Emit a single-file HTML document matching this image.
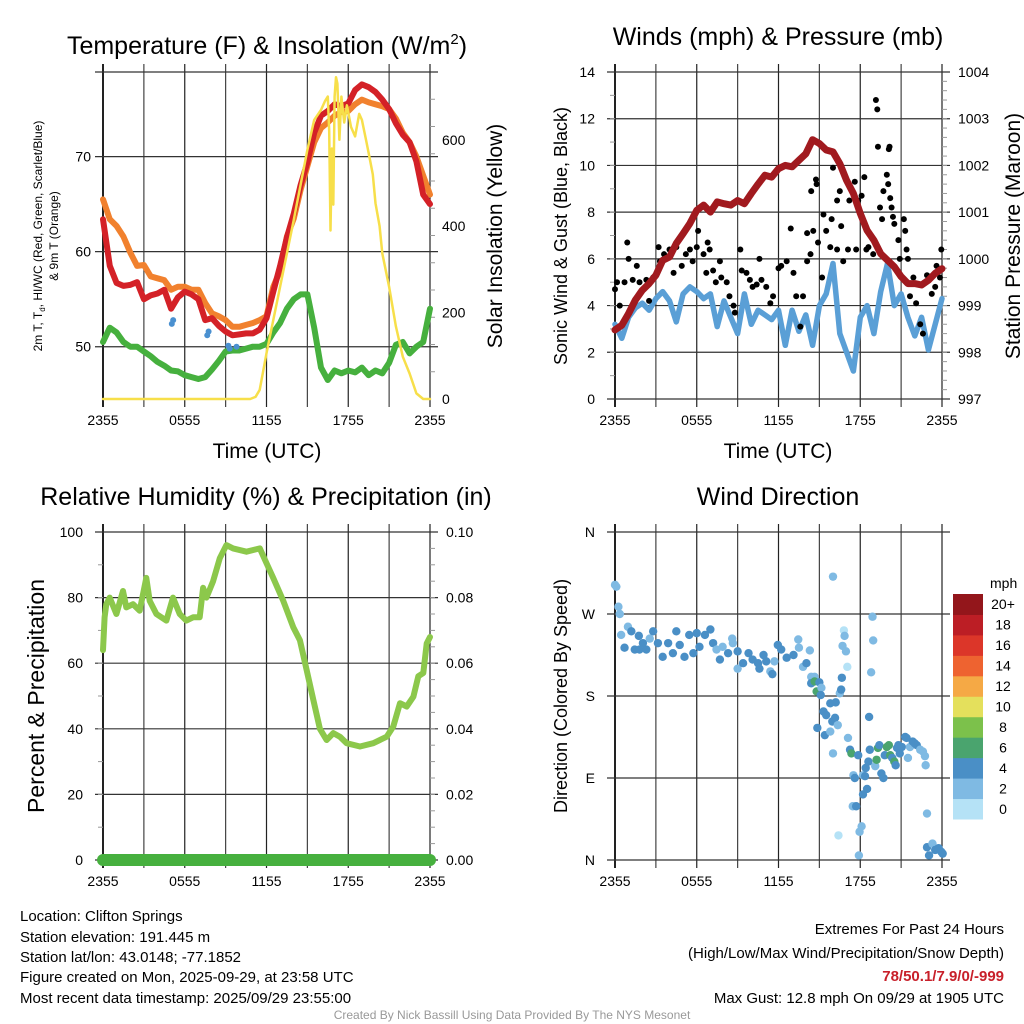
<!DOCTYPE html>
<html><head><meta charset="utf-8">
<style>
html,body{margin:0;padding:0;background:#fff;}
svg{display:block;font-family:"Liberation Sans",Arial,sans-serif;}
</style></head>
<body>
<svg id="chart" width="1024" height="1024" viewBox="0 0 1024 1024" xmlns="http://www.w3.org/2000/svg">
<rect x="0" y="0" width="1024" height="1024" fill="#fff"/>
<g id="layer"></g>
<g fill="#000">
<text x="267" y="54" font-size="25" text-anchor="middle">Temperature (F) &amp; Insolation (W/m<tspan dy="-10" font-size="15">2</tspan><tspan dy="10">)</tspan></text>
<text x="778" y="45" font-size="25" text-anchor="middle">Winds (mph) &amp; Pressure (mb)</text>
<text x="266" y="505" font-size="25" text-anchor="middle">Relative Humidity (%) &amp; Precipitation (in)</text>
<text x="778" y="505" font-size="25" text-anchor="middle">Wind Direction</text>
</g>
<g fill="#000">
<text x="267" y="458" font-size="21" text-anchor="middle">Time (UTC)</text>
<text x="778" y="458" font-size="21" text-anchor="middle">Time (UTC)</text>
<text transform="translate(42,236) rotate(-90)" font-size="12" text-anchor="middle">2m T, T<tspan font-size="8" dy="3">d</tspan><tspan dy="-3">, HI/WC (Red, Green, Scarlet/Blue)</tspan></text>
<text transform="translate(58,236) rotate(-90)" font-size="12" text-anchor="middle">&amp; 9m T (Orange)</text>
<text transform="translate(502,236) rotate(-90)" font-size="21" text-anchor="middle">Solar Insolation (Yellow)</text>
<text transform="translate(567,236) rotate(-90)" font-size="18" text-anchor="middle">Sonic Wind &amp; Gust (Blue, Black)</text>
<text transform="translate(1020,236) rotate(-90)" font-size="21" text-anchor="middle">Station Pressure (Maroon)</text>
<text transform="translate(44,696) rotate(-90)" font-size="23" text-anchor="middle">Percent &amp; Precipitation</text>
<text transform="translate(567,696) rotate(-90)" font-size="18" text-anchor="middle">Direction (Colored By Speed)</text>
</g>
<g font-size="15" fill="#000">
<text x="20" y="921">Location: Clifton Springs</text>
<text x="20" y="942">Station elevation: 191.445 m</text>
<text x="20" y="962">Station lat/lon: 43.0148; -77.1852</text>
<text x="20" y="982">Figure created on Mon, 2025-09-29, at 23:58 UTC</text>
<text x="20" y="1003">Most recent data timestamp: 2025/09/29 23:55:00</text>
</g>
<g font-size="15" fill="#000" text-anchor="end">
<text x="1004" y="934">Extremes For Past 24 Hours</text>
<text x="1004" y="958">(High/Low/Max Wind/Precipitation/Snow Depth)</text>
<text x="1004" y="981" fill="#c8202a" font-weight="bold">78/50.1/7.9/0/-999</text>
<text x="1004" y="1003">Max Gust: 12.8 mph On 09/29 at 1905 UTC</text>
</g>
<text x="512" y="1019" font-size="12" fill="#999" text-anchor="middle">Created By Nick Bassill Using Data Provided By The NYS Mesonet</text>
</svg>
<script>
// ---------- data ----------
const hours = [0,0.5,1,1.5,2,2.5,3,3.5,4,4.5,5,5.5,6,6.5,7,7.5,8,8.5,9,9.5,10,10.5,11,11.5,12,12.5,13,13.5,14,14.5,15,15.5,16,16.5,17,17.5,18,18.5,19,19.5,20,20.5,21,21.5,22,22.5,23,23.5,24];
const timeTickLabels = ["2355","0555","1155","1755","2355"];
const tempRed = [63.4,58.5,56.7,56.4,56.5,56.8,55,55.4,55.6,56,54,55.2,55.8,55.5,55,52.8,53,52.2,51.6,51.2,51.3,51.4,51.4,51.8,53,55.8,58.5,61.5,64,67,69.4,72.5,74.3,74.8,75.5,75.3,75.6,77,77.6,77.3,76.8,76,75,73.5,72.3,71.5,69.5,66,65];
const tempOrange = [65.5,63.4,62.7,61.6,59.9,58.5,58.6,57.4,57.2,57,56,56.3,56.3,56,56,54.6,53.5,53.2,52.8,52.1,52.1,52.3,52.5,52.8,53.2,56.3,58,61.6,63.5,66.5,69,71.5,73,73.6,74.3,74.7,74.8,75.5,76,75.7,75.5,75.3,75,74,72.5,71.5,70,68,66];
const dewGreen = [50.5,52,51.5,50.5,50,50,49.5,49,48.4,48,47.5,47.4,47,46.8,46.6,46.8,47.6,48.5,49.5,49.6,49.6,49.8,50,50,50.3,51.5,52.5,54,55,55.5,55.5,52,47.8,46.5,47.5,47.2,47.5,47.3,47.8,47,47.5,47.2,48.3,50.2,50.5,49.3,50,50.5,54];
const wcHours = [5.05,5.15,7.65,7.75,9.2,9.3,9.8];
const wcBlue = [52.4,52.8,51.2,51.6,50.1,49.8,50.0];
const solarHours = [0,10.8,11.2,11.5,12,13,14,15,15.5,16,16.3,16.5,16.6,16.7,16.8,16.9,17.0,17.1,17.2,17.35,17.5,17.7,17.9,18.2,18.5,18.8,19,19.3,19.5,19.8,20,20.3,20.5,21,21.5,22,22.5,23,23.5,24];
const solarVals = [0,0,5,21,106,260,415,577,646,669,690,700,620,390,580,450,700,745,730,600,700,640,680,630,608,660,646,600,569,520,453,400,337,260,168,98,59,13,0,0];
const windBlue = [3.2,2.6,3.5,3.9,4.1,3.8,4.3,4.6,4.2,3.3,4.5,4.8,4.6,4.3,4.5,3.1,4.2,3.5,2.8,4.5,3.2,3.8,3.6,3.4,3.8,2.3,3.8,2.9,3.6,2.3,4,4.5,5.8,2.8,2,1.2,3.5,4,2.8,4.6,5.8,4,4.5,3.5,2.7,3.5,2.1,3.2,4.3];
const gustHours = [0,0.15,0.35,0.9,1.0,0.7,1.3,1.6,1.8,2.3,2.5,2.8,3.2,3.3,3.6,4.0,4.3,4.5,4.9,5.2,5.5,5.7,6.0,6.1,6.5,6.7,6.8,6.95,7.2,7.4,7.7,7.8,8.2,8.4,8.7,8.8,9.2,9.3,9.65,9.9,10.1,10.4,10.6,10.75,11.1,11.4,11.6,12.0,12.2,12.6,12.9,13.1,13.3,13.6,13.8,14.1,14.1,14.35,14.55,14.4,14.75,14.8,14.9,15.2,15.3,15.5,15.8,15.9,16.0,16.3,16.3,16.5,16.6,16.75,17.1,17.2,17.6,17.7,17.85,18.1,18.3,18.45,18.6,18.95,19.15,19.25,19.3,19.45,19.6,19.7,19.95,20.1,20.15,20.05,20.2,20.3,20.4,20.5,20.8,20.9,21.2,21.3,21.4,21.5,21.65,21.9,22.1,22.4,22.6,22.9,23.25,23.5,23.6,23.85,23.95];
const gustVals = [4.7,5.0,4.0,6.7,6.0,5.0,5.1,5.7,5.0,5.1,4.2,5.2,6.5,5.9,6.2,6.4,5.4,6.5,5.7,6.2,6.4,5.9,6.5,7.2,6.2,5.4,6.7,6.4,5.5,5.0,5.9,5.2,5.0,4.4,4.0,3.7,6.4,5.5,5.4,5.1,4.8,4.9,6.0,5.1,4.8,4.1,4.4,5.6,5.7,5.9,7.3,5.4,4.4,3.1,4.4,5.9,7.1,6.2,7.2,8.9,9.4,9.2,6.7,5.2,7.9,7.2,6.5,7.7,9.9,8.5,6.4,8.9,7.4,5.9,6.4,8.5,9.3,6.4,8.5,8.7,9.5,6.4,6.5,6.2,12.8,12.4,10.8,8.2,7.7,8.9,9.6,10.7,10.8,9.2,8.6,8.2,7.8,7.5,6.8,6.0,7.7,7.2,6.4,6.0,4.4,5.2,4.1,3.2,2.8,5.3,4.5,4.8,5.7,5.2,6.4];
const pressure = [998.48,998.58,998.83,999.12,999.33,999.47,999.65,999.97,1000.04,1000.33,1000.54,1000.76,1001.04,1001.15,1001.0,1001.22,1001.18,1001.15,1001.25,1001.18,1001.4,1001.6,1001.79,1001.75,1001.93,1002.0,1001.97,1002.11,1002.25,1002.55,1002.47,1002.33,1002.29,1002.04,1001.68,1001.4,1000.97,1000.61,1000.4,1000.11,999.97,999.83,999.62,999.47,999.47,999.44,999.54,999.69,999.79];
const rhHours = [0,0.12,0.24,0.49,0.98,1.47,1.71,2.2,2.69,3.18,3.43,3.92,4.65,5.14,5.63,6.12,6.61,7.1,7.35,7.59,8.08,8.57,9.06,9.55,10.53,11.51,12.0,12.49,13.23,13.96,14.45,14.94,15.43,15.92,16.41,16.9,17.39,17.88,18.86,19.84,20.82,21.31,21.8,22.29,22.78,23.14,23.51,23.76,24];
const rhVals = [64,74,78,80,75,82,77,78,76,86,79,75,73,80,75,73,74,74,83,80,85,92,96,95,94,95,90.5,86,79,71,67,58,49,40,36.6,38.7,37.6,35.6,34.6,35.6,37.6,40.7,47.8,46.8,49.8,56,57,66,68];
const precip = [0,0,0,0,0,0,0,0,0,0,0,0,0,0,0,0,0,0,0,0,0,0,0,0,0,0,0,0,0,0,0,0,0,0,0,0,0,0,0,0,0,0,0,0,0,0,0,0,0];
const dirHours = [0,0.1,0.25,0.35,0.45,0.7,0.95,1.2,1.45,1.75,1.8,2.05,2.3,2.55,2.8,3.15,3.5,3.9,4.25,4.5,4.75,5.1,5.45,5.75,6,6.2,6.6,7,7.2,7.45,7.7,7.9,8.3,8.6,8.65,9,9,9.4,9.8,10.1,10.5,10.6,10.9,11.1,11.4,11.55,11.7,11.95,12.2,12.6,13.1,13.45,13.5,13.8,14.05,14.3,14.4,14.65,14.4,14.65,14.8,15,15.15,15.1,15.3,14.85,15.4,15.5,15.8,15.8,16,15.95,16.15,16,16.2,16.35,16.4,16.5,16.6,16.65,16.7,16.8,16.85,16.95,17.05,17.1,17.25,17.35,17.5,17.6,17.45,17.7,17.85,17.9,17.95,18.1,18.2,18.2,18.35,18.4,18.5,18.6,18.65,18.7,18.8,18.9,18.95,19.1,19.2,19.3,19.4,19.55,19.7,19.8,19.95,20.1,20.2,20.35,20.5,20.6,20.7,20.8,20.9,21.05,21.3,21.4,21.5,21.65,21.85,22,22.15,22.4,22.6,22.75,22.8,22.9,22.9,23.05,23.3,23.5,23.75,23.95,24.05];
const dirDeg = [302,300,278,270,247,233,256,251,231,246,231,238,231,243,251,238,223,238,227,251,236,223,247,227,249,234,247,253,238,231,220,234,227,243,238,229,210,216,227,220,216,210,225,218,207,204,218,236,231,222,225,242,233,212,216,230,201,201,194,196,185,195,189,181,163,145,137,159,172,141,311,152,156,117,173,148,27,183,187,200,235,252,246,229,212,134,121,117,93,90,59,59,115,5,31,37,72,93,92,101,78,108,157,121,206,267,241,103,110,123,126,95,90,115,124,126,115,112,108,104,123,126,117,124,135,134,112,124,130,128,126,121,119,114,104,51,14,5,18,11,13,9,7];
const dirSpeed = [2,2,2,2,2,4,2,4,4,4,4,4,4,2,4,4,4,4,4,4,4,4,4,4,4,4,4,4,4,2,4,2,4,2,2,4,2,4,4,4,4,4,4,4,2,4,2,4,4,4,4,2,2,2,4,2,2,2,4,6,6,4,2,4,4,4,4,4,4,2,2,4,4,2,4,2,0,2,4,4,2,0,2,2,0,2,4,6,2,4,2,4,4,2,2,2,4,2,4,4,4,4,4,4,2,2,2,2,6,6,4,4,4,4,6,6,6,4,6,4,4,4,4,4,4,4,2,2,4,4,4,2,2,2,2,2,4,4,2,4,4,4,4];
const speedLevels = ["0","2","4","6","8","10","12","14","16","18","20+"];
const speedColors = ["#b5e2f6","#7fbae3","#4a8fc6","#4aa46e","#7cc14b","#e4e05c","#f5a945","#ee6330","#dc3629","#bc1e25","#93161b"];

// ---------- helpers ----------
const NS = "http://www.w3.org/2000/svg";
const layer = document.getElementById("layer");
function mk(tag, attrs, parent) {
  const e = document.createElementNS(NS, tag);
  for (const k in attrs) e.setAttribute(k, attrs[k]);
  (parent || layer).appendChild(e);
  return e;
}
function panel(x0, x1, y0, y1) {
  return {x0, x1, y0, y1,
    sx: h => x0 + (x1 - x0) * h / 24,
    sy: (v, lo, hi) => y1 - (y1 - y0) * (v - lo) / (hi - lo)};
}
function gridFrame(p, name, hLines) {
  const g = mk("g", {});
  
  
  for (let i = 0; i <= 8; i++) {
    const x = p.x0 + (p.x1 - p.x0) * i / 8;
    const l = mk("line", {x1: x, x2: x, y1: p.y0 - 8, y2: p.y1 + 8, stroke: i % 2 ? "#444" : "#222", "stroke-width": i === 0 ? 2 : 1.2}, g);
    
    
  }
  hLines.forEach(y => {
    const l = mk("line", {x1: p.x0 - 8, x2: p.x1 + 8, y1: y, y2: y, stroke: "#333", "stroke-width": 1.2}, g);
    
    
  });
  timeTickLabels.forEach((t, i) => {
    const tx = mk("text", {x: p.x0 + (p.x1 - p.x0) * i / 4, y: p.y1 + 26, "font-size": 14, "text-anchor": "middle"}, g);
    tx.textContent = t;
    
    
  });
}
function minorTicks(p, side, n) {
  for (let i = 1; i < n; i++) {
    const y = p.y0 + (p.y1 - p.y0) * i / n;
    const x = side === "r" ? p.x1 : p.x0;
    const l = mk("line", {x1: x, x2: side === "r" ? x + 5 : x - 5, y1: y, y2: y, stroke: "#999", "stroke-width": 1});
    
    
  }
}
function tickLabel(x, y, txt, anchor, name) {
  const t = mk("text", {x: x, y: y + 5, "font-size": 14, "text-anchor": anchor});
  t.textContent = txt;
  
  
}
function line(xs, ys, fx, fy, color, w, name) {
  const d = xs.map((h, i) => (i ? "L" : "M") + fx(h).toFixed(1) + "," + fy(ys[i]).toFixed(1)).join("");
  const e = mk("path", {d: d, fill: "none", stroke: color, "stroke-width": w, "stroke-linejoin": "round", "stroke-linecap": "round"});
  
  
}

// ---------- panel 1: temperature ----------
const P1 = panel(103, 430, 72, 399);
const tLo = 44.5, tHi = 78.9, sLo = 0, sHi = 757;
const ty = v => P1.sy(v, tLo, tHi), syS = v => P1.sy(v, sLo, sHi);
gridFrame(P1, "temperature", [50, 60, 70].map(ty).concat([P1.y0]));
minorTicks(P1, "r", 12);
[50, 60, 70].forEach(v => tickLabel(P1.x0 - 12, ty(v), String(v), "end", "temperature-tick-label"));
[0, 200, 400, 600].forEach(v => tickLabel(P1.x1 + 12, syS(v), String(v), "start", "solar-tick-label"));
line(hours, dewGreen, P1.sx, ty, "#46b03e", 6, "dewpoint-line");
line(hours, tempOrange, P1.sx, ty, "#f1812e", 6, "temp-9m-line");
line(hours, tempRed, P1.sx, ty, "#d42127", 6, "temp-2m-line");
wcHours.forEach((h, i) => {
  const c = mk("circle", {cx: P1.sx(h), cy: ty(wcBlue[i]), r: 3, fill: "#4a90d0"});
  
  
});
line(solarHours, solarVals, P1.sx, syS, "#f7df4a", 2.5, "solar-line");

// ---------- panel 2: winds ----------
const P2 = panel(615, 942, 72, 399);
const wy = v => P2.sy(v, 0, 14), py = v => P2.sy(v, 997, 1004);
gridFrame(P2, "winds", [0, 2, 4, 6, 8, 10, 12, 14].map(wy));
minorTicks(P2, "r", 35);
minorTicks(P2, "l", 14);
[0, 2, 4, 6, 8, 10, 12, 14].forEach(v => tickLabel(P2.x0 - 20, wy(v), String(v), "end", "wind-tick-label"));
[997, 998, 999, 1000, 1001, 1002, 1003, 1004].forEach(v => tickLabel(P2.x1 + 16, py(v), String(v), "start", "pressure-tick-label"));
line(hours, windBlue, P2.sx, wy, "#5a9fd6", 5.5, "sonic-wind-line");
gustHours.forEach((h, i) => {
  const c = mk("circle", {cx: P2.sx(h), cy: wy(gustVals[i]), r: 3, fill: "#000"});
  
  
});
line(hours, pressure, P2.sx, py, "#a11a1f", 7, "pressure-line");

// ---------- panel 3: humidity ----------
const P3 = panel(103, 430, 532, 860);
const ry = v => P3.sy(v, 0, 100), ppy = v => P3.sy(v, 0, 0.1);
gridFrame(P3, "humidity", [0, 20, 40, 60, 80, 100].map(ry));
minorTicks(P3, "r", 20);
minorTicks(P3, "l", 10);
[0, 20, 40, 60, 80, 100].forEach(v => tickLabel(P3.x0 - 20, ry(v), String(v), "end", "rh-tick-label"));
["0.00", "0.02", "0.04", "0.06", "0.08", "0.10"].forEach(v => tickLabel(P3.x1 + 16, ppy(parseFloat(v)), v, "start", "precip-tick-label"));
line(rhHours, rhVals, P3.sx, ry, "#8cc84b", 6, "rh-line");
line(hours, precip, P3.sx, ppy, "#46b03e", 12, "precip-line");

// ---------- panel 4: direction ----------
const P4 = panel(615, 942, 532, 860);
const dy = v => P4.sy(v, 0, 360);
gridFrame(P4, "direction", [0, 90, 180, 270, 360].map(dy));
["N", "E", "S", "W", "N"].forEach((t, i) => tickLabel(P4.x0 - 20, dy(i * 90), t, "end", "direction-tick-label"));
dirHours.forEach((h, i) => {
  const c = mk("circle", {cx: P4.sx(h), cy: dy(dirDeg[i]), r: 4.2, fill: speedColors[dirSpeed[i] / 2]});
  
  
});
// colorbar legend
const lg = mk("g", {});


const mt = mk("text", {x: 990, y: 588, "font-size": 14}, lg);
mt.textContent = "mph";


const boxH = 225 / 11;
for (let i = 0; i < 11; i++) {
  const top = 594 + (10 - i) * boxH;
  const r = mk("rect", {x: 953, y: top, width: 30, height: boxH + 0.5, fill: speedColors[i]}, lg);
  
  
  const t = mk("text", {x: 1003, y: top + boxH / 2 + 5, "font-size": 14, "text-anchor": "middle"}, lg);
  t.textContent = speedLevels[i];
  
  
}
</script>
</body></html>
